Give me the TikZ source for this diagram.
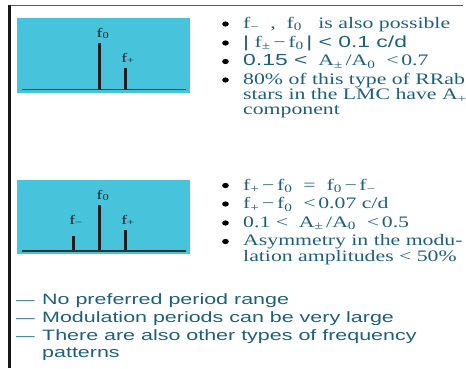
\documentclass[tikz,border=0pt]{standalone}
\usepackage{fontspec}
\setmainfont[FakeStretch=1.36]{Liberation Serif}
\newfontfamily\sfx[FakeStretch=1.43]{Liberation Sans}
\definecolor{txt}{HTML}{1F5F7C}
\definecolor{boxc}{HTML}{47C3DB}
\definecolor{barc}{HTML}{1E1E1E}
\newcommand\sub[1]{\textsubscript{#1}}
\tikzset{
  serif/.style={anchor=base west, inner sep=0pt, text=txt, font=\fontsize{16}{18}\selectfont},
  sans/.style={anchor=base west, inner sep=0pt, text=txt, font=\sfx\fontsize{15}{17}\selectfont},
  lab/.style={anchor=base, inner sep=0pt, text=barc, font=\fontsize{13}{14}\selectfont},
  bar/.style={barc, line width=3pt},
  axis/.style={black!80, line width=1.3pt},
  bul/.style={fill=black}
}
\begin{document}
\begin{tikzpicture}[x=1pt,y=-1pt]
\useasboundingbox (0,0) rectangle (466,368);
% frame
\draw[gray!70!black, line width=1.3pt] (8,5.7) -- (463,5.7);
\draw[black!90, line width=2.5pt] (9.5,4.9) -- (9.5,368);
% box 1
\fill[boxc] (17,18) rectangle (190,93);
\draw[axis] (22,89.5) -- (186,89.5);
\draw[bar] (99,43) -- (99,88.8);
\draw[bar] (125,68) -- (125,88.8);
\node[lab] (l1a) at (103,37) {f\sub{0}};
\node[lab] (l1b) at (128,62) {f\sub{+}};
% box 2
\fill[boxc] (17,180) rectangle (190,254);
\draw[axis] (22,251) -- (186,251);
\draw[bar] (73,236) -- (73,250.3);
\draw[bar] (99,205) -- (99,250.3);
\draw[bar] (125,230) -- (125,250.3);
\node[lab] (l2a) at (103,199) {f\sub{0}};
\node[lab] (l2b) at (76,224) {f\sub{−}};
\node[lab] (l2c) at (128,224) {f\sub{+}};
% bullets box 1
\foreach \y in {24,43,61.5,80} \fill[bul] (225.5,\y) ellipse (3.3pt and 2.6pt);
\node[serif] (t1) at (243,28) {f\sub{−}\ \ ,\ \ f\sub{0}\ \ \ is also possible};
\node[serif] (t2) at (243,47) {{\sfx|} f\sub{±}\,−\,f\sub{0}{\sfx\,| < 0.1 c/d}};
\node[serif] (t3) at (243,65.5) {{\sfx 0.15 <}\ \ A\sub{±}\,/A\sub{0}\ \ <\,0.7};
\node[serif] (t4) at (243,84) {80\% of this type of RRab};
\node[serif] (t5) at (243,99.5) {stars in the LMC have A\sub{+}};
\node[serif] (t6) at (243,114) {component};
% bullets box 2
\foreach \y in {185.5,204,223,241.5} \fill[bul] (225.5,\y) ellipse (3.3pt and 2.6pt);
\node[serif] (u1) at (243,190) {f\sub{+}\,−\,f\sub{0}\ \ =\ \ f\sub{0}\,−\,f\sub{−}};
\node[serif] (u2) at (243,208.5) {f\sub{+}\,−\,f\sub{0}\ \ <\,0.07 c/d};
\node[serif] (u3) at (243,227) {0.1 <\ \ A\sub{±}\,/A\sub{0}\ \ <\,0.5};
\node[serif] (u4) at (243,245.5) {Asymmetry in the modu-};
\node[serif] (u5) at (243,261) {lation amplitudes < 50\%};
% bottom
\node[sans] (d1) at (16,304.5) {\fontsize{13}{15}\selectfont —};
\node[sans] (d2) at (16,322.5) {\fontsize{13}{15}\selectfont —};
\node[sans] (d3) at (16,340.5) {\fontsize{13}{15}\selectfont —};
\node[sans] (b1) at (42,304.5) {No preferred period range};
\node[sans] (b2) at (42,322.5) {Modulation periods can be very large};
\node[sans] (b3) at (42,340.5) {There are also other types of frequency};
\node[sans] (b4) at (42,357.5) {patterns};
\end{tikzpicture}
\end{document}
